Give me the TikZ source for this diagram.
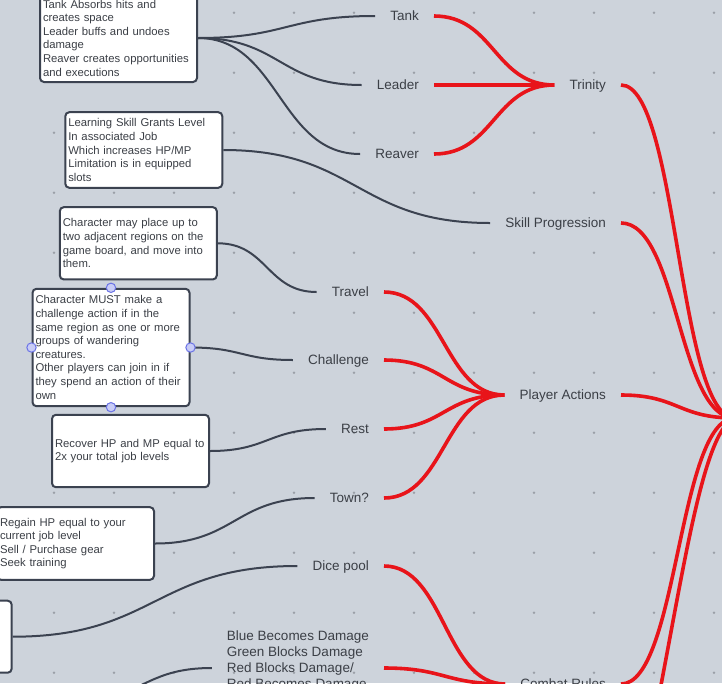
\documentclass[tikz,border=0pt]{standalone}
\usepackage{fontspec}
\setmainfont{Liberation Sans}
\usetikzlibrary{calc}
\definecolor{bgc}{HTML}{CDD3DB}
\definecolor{dotc}{HTML}{9BA0A8}
\definecolor{dk}{HTML}{3B4250}
\definecolor{rd}{HTML}{E8141A}
\definecolor{txt}{HTML}{3B3F46}
\definecolor{hfill}{HTML}{C8CCF6}
\definecolor{hdraw}{HTML}{6B73E6}
\begin{document}
\begin{tikzpicture}[x=1pt,y=-1pt,
  lbl/.style={font=\fontsize{13.5}{16}\selectfont, text=txt, inner xsep=15pt, inner ysep=0pt, anchor=east, text height=9.7pt, text depth=0pt},
  mlbl/.style={font=\fontsize{13.5}{16}\selectfont, text=txt, inner xsep=15pt, inner ysep=0pt, anchor=east, align=left},
  box/.style={draw=dk, line width=2pt, rounded corners=4pt, fill=white, text width=151pt, inner xsep=3pt, inner ysep=3pt, align=left, font=\fontsize{11.3}{13.6}\selectfont, text=txt, minimum width=157pt},
  darklink/.style={draw=dk, line width=2pt},
  redlink/.style={draw=rd, line width=3.6pt},
  hc/.style={to path={let \p1=(\tikztostart), \p2=(\tikztotarget), \n1={(\x2-\x1)/2} in .. controls ([xshift=\n1]\tikztostart) and ([xshift=-\n1]\tikztotarget) .. (\tikztotarget) \tikztonodes}},
  handle/.style={draw=hdraw, fill=hfill, line width=1pt}]
\useasboundingbox (0,0) rectangle (722,683);
\fill[bgc] (0,0) rectangle (722,683);
\clip (0,0) rectangle (722,683);
\foreach \x in {54,114,...,714}
  \foreach \y in {12.7,72.7,...,672.7}
    \fill[dotc] (\x,\y) circle (1.4pt);

% labels
\node[lbl] (tank) at (434,16) {Tank};
\node[lbl] (leader) at (434,85) {Leader};
\node[lbl] (reaver) at (434,154) {Reaver};
\node[lbl] (trinity) at (621,85) {Trinity};
\node[lbl] (skill) at (621,223) {Skill Progression};
\node[lbl] (travel) at (384,292) {Travel};
\node[lbl] (challenge) at (384,360) {Challenge};
\node[lbl] (rest) at (384,429) {Rest};
\node[lbl] (town) at (384,498) {Town?};
\node[lbl] (actions) at (621,395) {Player Actions};
\node[lbl] (dice) at (384,566) {Dice pool};
\node[mlbl] (dmg) at (384,668) {Blue Becomes Damage\\Green Blocks Damage\\Red Blocks Damage/\\Red Becomes Damage\\\mbox{}};
\node[lbl] (combat) at (621,684) {Combat Rules};
\coordinate (root) at (735,418);
\coordinate (offA) at (646,760);
\coordinate (offB) at (75,700);

% boxes
\node[box, minimum height=88pt] (b1) at (118.5,38) {Tank Absorbs hits and\\creates space\\Leader buffs and undoes\\damage\\Reaver creates opportunities\\and executions};
\node[box, minimum height=75.6pt] (b2) at (143.8,150) {Learning Skill Grants Level\\In associated Job\\Which increases HP/MP\\Limitation is in equipped\\slots};
\node[box, minimum height=72.3pt] (b3) at (138.3,243.3) {Character may place up to\\two adjacent regions on the\\game board, and move into\\them.};
\node[box, minimum height=117.4pt] (b4) at (111,347.5) {Character MUST make a\\challenge action if in the\\same region as one or more\\groups of wandering\\creatures.\\Other players can join in if\\they spend an action of their\\own};
\node[box, minimum height=72.4pt] (b5) at (130.5,451) {Recover HP and MP equal to\\2x your total job levels};
\node[box, minimum height=72.6pt] (b6) at (75.5,543.5) {Regain HP equal to your\\current job level\\Sell / Purchase gear\\Seek training};
\node[box, minimum height=72pt] (b7) at (-66.8,636.7) {};

% dark connectors
\draw[darklink] (b1.east) to[hc] (tank.west);
\draw[darklink] (b1.east) to[hc] (leader.west);
\draw[darklink] (b1.east) to[hc] (reaver.west);
\draw[darklink] (b2.east) to[hc] (skill.west);
\draw[darklink] (b3.east) to[hc] (travel.west);
\draw[darklink] (b4.east) to[hc] (challenge.west);
\draw[darklink] (b5.east) to[hc] (rest.west);
\draw[darklink] (b6.east) to[hc] (town.west);
\draw[darklink] (b7.east) to[hc] (dice.west);
\draw[darklink] (offB) to[hc] (dmg.west);

% red connectors
\draw[redlink] (tank.east) to[hc] (trinity.west);
\draw[redlink] (leader.east) to[hc] (trinity.west);
\draw[redlink] (reaver.east) to[hc] (trinity.west);
\draw[redlink] (travel.east) to[hc] (actions.west);
\draw[redlink] (challenge.east) to[hc] (actions.west);
\draw[redlink] (rest.east) to[hc] (actions.west);
\draw[redlink] (town.east) to[hc] (actions.west);
\draw[redlink] (dice.east) to[hc] (combat.west);
\draw[redlink] (dmg.east) to[hc] (combat.west);
\draw[redlink] (trinity.east) to[hc] (root);
\draw[redlink] (skill.east) to[hc] (root);
\draw[redlink] (actions.east) to[hc] (root);
\draw[redlink] (combat.east) to[hc] (root);
\draw[redlink] (offA) .. controls (680,600) and (700,430) .. (root);

% selection handles
\foreach \a in {north,south,east,west}
  \filldraw[handle] (b4.\a) circle (4.7pt);
\end{tikzpicture}
\end{document}
